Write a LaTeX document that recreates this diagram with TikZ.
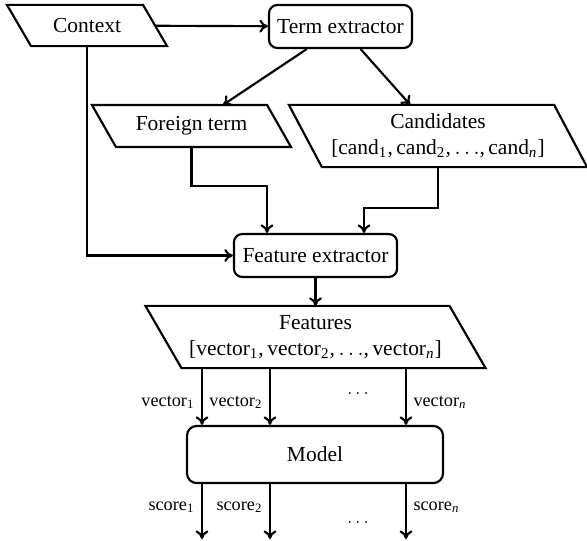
\documentclass[tikz,border=0pt]{standalone}
\usepackage{fontspec}
\setmainfont{Liberation Serif}
\usetikzlibrary{calc,arrows.meta}
\newcommand\paraoutline[2]{%
  \draw ($(#1.north west)+(-#2,0)$) -- ($(#1.north east)+(-#2,0)$) --
        ($(#1.south east)+(#2,0)$) -- ($(#1.south west)+(#2,0)$) -- cycle;}
\begin{document}
\begin{tikzpicture}[x=0.466pt,y=-0.466pt, line width=1pt,
  box/.style={draw, rounded corners=3.8pt, inner sep=0pt, align=center},
  para/.style={inner sep=0pt, align=center},
  lbl/.style={font=\fontsize{8.5}{10}\selectfont, inner sep=3pt},
  arr/.style={-{To[length=4pt,width=6pt]}}]
\useasboundingbox (0,0) rectangle (587,540);

% nodes
\node[para, minimum width=62.4pt, minimum height=18.2pt] (ctx) at (87,25.5) {Context};
\node[box, minimum width=66.6pt, minimum height=20pt] (term) at (340.5,26.5) {Term extractor};
\node[para, minimum width=80.6pt, minimum height=18.6pt] (ft) at (191.5,126) {Foreign term};
\node[para, minimum width=122.6pt, minimum height=28pt] (cand) at (438,136)
  {Candidates\\{}{[}cand\textsubscript{1},\,cand\textsubscript{2},\,$\ldots$,\,cand\textsubscript{\textit{n}}{]}};
\node[box, minimum width=76pt, minimum height=20pt] (fe) at (315.5,255.5) {Feature extractor};
\node[para, minimum width=140.7pt, minimum height=28pt] (feat) at (315.5,337)
  {Features\\{}{[}vector\textsubscript{1},\,vector\textsubscript{2},\,$\ldots$,\,vector\textsubscript{\textit{n}}{]}};
\node[box, rounded corners=4.5pt, minimum width=119.3pt, minimum height=26.6pt] (model) at (315,454.5) {Model};

% parallelogram outlines
\paraoutline{ctx}{12}
\paraoutline{ft}{12}
\paraoutline{cand}{16.5}
\paraoutline{feat}{18}

% bend and column coordinates
\coordinate (b1) at (267,186);
\coordinate (b2) at (364,208);
\coordinate (c1) at (202,0);
\coordinate (c2) at (270,0);
\coordinate (c3) at (406,0);
\coordinate (end) at (0,539);

% connectors
\draw[arr] (ctx) -- (term);
\draw[arr] (term) -- (ft);
\draw[arr] (term) -- (cand);
\draw[arr] (ctx.south) |- (fe.west);
\draw[arr] (ft.south) |- (b1) -- (b1 |- fe.north);
\draw[arr] (cand.south) |- (b2) -- (b2 |- fe.north);
\draw[arr] (fe.south) -- (feat.north);

\draw[arr] (c1 |- feat.south) -- node[lbl, left, pos=0.6] (l1) {vector\textsubscript{1}} (c1 |- model.north);
\draw[arr] (c2 |- feat.south) -- node[lbl, left, pos=0.6] (l2) {vector\textsubscript{2}} (c2 |- model.north);
\draw[arr] (c3 |- feat.south) -- node[lbl, right, pos=0.6] (l3) {vector\textsubscript{\textit{n}}} (c3 |- model.north);
\node[lbl] (d1) at (358,394) {$\ldots$};

\draw[arr] (c1 |- model.south) -- node[lbl, left, pos=0.42] (s1) {score\textsubscript{1}} (c1 |- end);
\draw[arr] (c2 |- model.south) -- node[lbl, left, pos=0.42] (s2) {score\textsubscript{2}} (c2 |- end);
\draw[arr] (c3 |- model.south) -- node[lbl, right, pos=0.42] (s3) {score\textsubscript{\textit{n}}} (c3 |- end);
\node[lbl] (d2) at (358,523) {$\ldots$};
\end{tikzpicture}
\end{document}
